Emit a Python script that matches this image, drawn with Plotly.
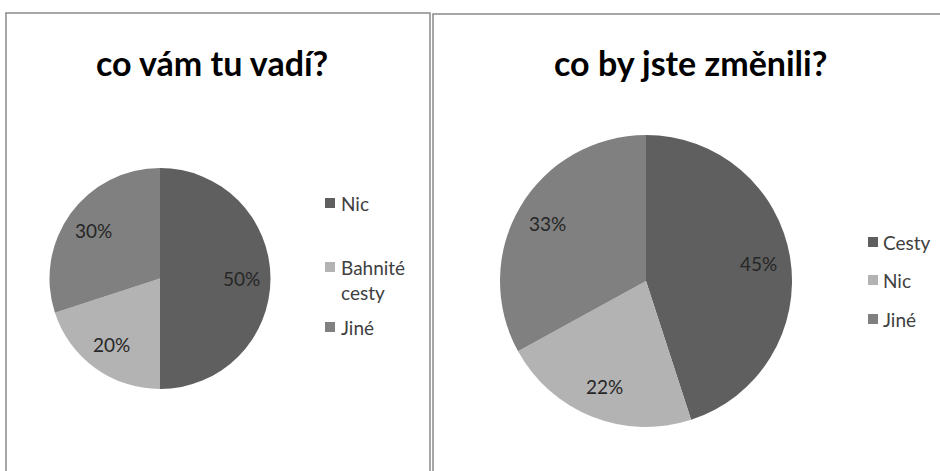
import math
import plotly.graph_objects as go

W, H = 940, 471

title1 = "co vám tu vadí?"
labels1 = ["Nic", "Bahnité<br>cesty", "Jiné"]
values1 = [50, 20, 30]

title2 = "co by jste změnili?"
labels2 = ["Cesty", "Nic", "Jiné"]
values2 = [45, 22, 33]

colors = ["#5f5f5f", "#b3b3b3", "#808080"]
FONT = "Lato, 'Open Sans', sans-serif"

def px(x):
    return x / W

def py(y):
    return 1 - y / H

fig = go.Figure()
shapes = []
annotations = []

def add_pie(labels, values, cx, cy, r, label_frac):
    fig.add_trace(go.Pie(
        labels=labels, values=values, sort=False, direction="clockwise",
        rotation=0, marker=dict(colors=colors, line=dict(width=0)),
        textinfo="none",
        showlegend=False, hoverinfo="label+percent",
        domain=dict(x=[px(cx - r), px(cx + r)], y=[py(cy + r), py(cy - r)]),
    ))
    # percentage labels placed at each slice's mid-angle (Excel "best fit" look)
    total = sum(values)
    cum = 0
    for v in values:
        mid = (cum + v / 2) / total * 2 * math.pi
        cum += v
        lx = cx + label_frac * r * math.sin(mid)
        ly = cy - label_frac * r * math.cos(mid)
        annotations.append(dict(
            text=f"{round(v / total * 100)}%", x=px(lx), y=py(ly),
            xref="paper", yref="paper", showarrow=False,
            xanchor="center", yanchor="middle",
            font=dict(family=FONT, size=19, color="#262626")))

add_pie(labels1, values1, 160, 278.5, 110.5, 0.74)
add_pie(labels2, values2, 646, 281, 146, 0.78)

# panel borders
shapes.append(dict(type="rect", xref="paper", yref="paper",
                   x0=px(6), x1=px(430), y0=py(475), y1=py(13),
                   line=dict(color="#8a8a8a", width=1.5)))
shapes.append(dict(type="rect", xref="paper", yref="paper",
                   x0=px(433), x1=px(945), y0=py(475), y1=py(14),
                   line=dict(color="#8a8a8a", width=1.5)))

# titles
annotations.append(dict(text=title1, x=px(212), y=py(63), xref="paper", yref="paper",
                        showarrow=False, xanchor="center", yanchor="middle",
                        font=dict(family=FONT, size=34, color="#000000", weight="bold")))
annotations.append(dict(text=title2, x=px(690), y=py(63), xref="paper", yref="paper",
                        showarrow=False, xanchor="center", yanchor="middle",
                        font=dict(family=FONT, size=34, color="#000000", weight="bold")))

def add_legend(labels, sq_x, text_x, rows_y):
    for lab, col, y in zip(labels, colors, rows_y):
        s = 5
        shapes.append(dict(type="rect", xref="paper", yref="paper",
                           x0=px(sq_x - s), x1=px(sq_x + s), y0=py(y + s), y1=py(y - s),
                           fillcolor=col, line=dict(width=0)))
        annotations.append(dict(text=lab, x=px(text_x), y=py(y - 13), xref="paper", yref="paper",
                                showarrow=False, xanchor="left", yanchor="top", align="left",
                                font=dict(family=FONT, size=19, color="#404040")))

add_legend(labels1, 330, 339, [203, 267, 327])
add_legend(labels2, 873, 881, [242, 280, 319])

fig.update_layout(
    width=W, height=H, margin=dict(l=0, r=0, t=0, b=0),
    paper_bgcolor="white", plot_bgcolor="white",
    shapes=shapes, annotations=annotations,
)

fig.write_html("out.html", config={"displayModeBar": False},
               post_script="document.body.style.margin='0';")
